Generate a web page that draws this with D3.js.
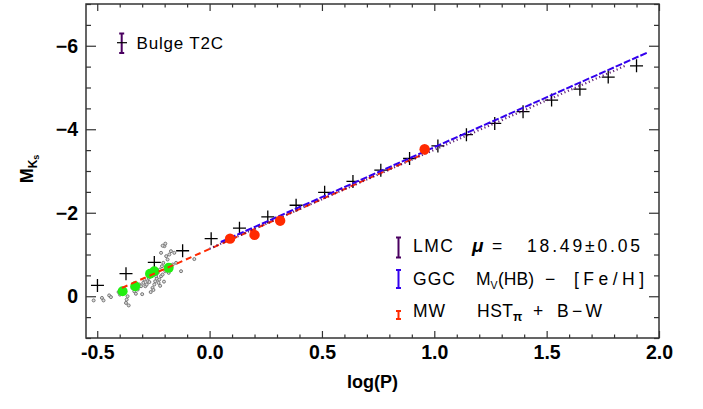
<!DOCTYPE html>
<html>
<head>
<meta charset="utf-8">
<script src="https://cdn.jsdelivr.net/npm/d3@7"></script>
<style>
  body { margin: 0; background: #fff; }
  text { font-family: "Liberation Sans", Helvetica, Arial, sans-serif; }
</style>
</head>
<body>
<div id="chart"></div>
<script>
// binned bulge T2C points (black crosses)
var crossLogP = [-0.499, -0.372, -0.246, -0.120, 0.007, 0.133, 0.259, 0.385, 0.512, 0.638,
                 0.762, 0.890, 1.016, 1.143, 1.269, 1.395, 1.522, 1.648, 1.774, 1.900];
var crossMag = [-0.26, -0.54, -0.81, -1.09, -1.38, -1.63, -1.90, -2.18, -2.49, -2.75,
                -3.02, -3.30, -3.60, -3.87, -4.14, -4.42, -4.70, -4.96, -5.25, -5.52];

// MW stars (red dots)
var mwLogP = [0.091, 0.200, 0.314, 0.957];
var mwMag = [-1.38, -1.47, -1.81, -3.52];

// green dots
var greenLogP = [-0.387, -0.331, -0.265, -0.246, -0.182];
var greenMag = [-0.12, -0.24, -0.54, -0.60, -0.68];

// individual stars (small grey circles)
var grayLogP = [-0.516, -0.479, -0.472, -0.447, -0.439, -0.405, -0.399, -0.372, -0.369, -0.365,
                -0.343, -0.335, -0.328, -0.320, -0.313, -0.305, -0.295, -0.291, -0.286, -0.280,
                -0.276, -0.271, -0.268, -0.254, -0.246, -0.242, -0.238, -0.235, -0.231, -0.227,
                -0.224, -0.221, -0.216, -0.216, -0.212, -0.209, -0.206, -0.201, -0.197, -0.193,
                -0.191, -0.187, -0.182, -0.179, -0.172, -0.164, -0.157, -0.149, -0.127, -0.068,
                -0.209, -0.197, -0.360, -0.300, -0.262, -0.250, -0.220, -0.203];
var grayMag = [0.10, 0.04, 0.10, -0.02, 0.02, -0.10, -0.04, 0.16, 0.08, 0.00,
               -0.20, -0.12, -0.06, -0.16, -0.28, -0.24, -0.32, -0.40, -0.24, -0.28,
               -0.36, -0.44, -0.34, -0.20, -0.28, -0.36, -0.48, -0.42, -0.56, -0.32,
               -0.40, -0.64, -0.48, -1.04, -0.72, -0.52, -0.80, -1.20, -0.60, -0.96,
               -0.72, -0.88, -0.56, -1.00, -1.08, -0.76, -1.04, -0.80, -0.60, -0.89,
               -1.21, -1.26, 0.22, -0.05, -0.10, -0.15, -0.25, -0.35];

// fitted relations (end points)
var lmcFitLogP = [0.0, 1.85];
var lmcFitMag = [-1.14, -5.52];
var ggcFitLogP = [0.05, 1.95];
var ggcFitMag = [-1.30, -5.84];
var mwFitLogP = [-0.39, 0.97];
var mwFitMag = [-0.20, -3.45];

// ticks
var xMajor = [-0.5, 0.0, 0.5, 1.0, 1.5, 2.0];
var yMajor = [-6, -4, -2, 0];

var svgWidth = 703;
var svgHeight = 409;
var margin = { top: 4, right: 44, bottom: 71, left: 86 };
var width = svgWidth - margin.left - margin.right;
var height = svgHeight - margin.top - margin.bottom;

var purple = "#4a0060";
var blue = "#3300ee";
var red = "#ff2a00";

var svg = d3.select("#chart").append("svg")
  .attr("width", svgWidth)
  .attr("height", svgHeight);

var g = svg.append("g")
  .attr("transform", `translate(${margin.left}, ${margin.top})`);

var x = d3.scaleLinear().domain([-0.55, 2.0]).range([0, width]);
var y = d3.scaleLinear().domain([1, -7]).range([height, 0]);

var xMinor = d3.range(-5, 21).map(d => d / 10).filter(d => xMajor.indexOf(d) < 0);
var yMinor = d3.range(-14, 3).map(d => d / 2).filter(d => yMajor.indexOf(d) < 0);

// axes: ticks on all four sides, pointing inward
function styleAxis(sel) {
  sel.select(".domain").remove();
  sel.selectAll(".tick line").attr("stroke", "#333").attr("stroke-width", 1.2);
  sel.selectAll("text")
    .attr("font-family", "Liberation Sans, Helvetica, Arial, sans-serif")
    .attr("font-size", 19.5)
    .attr("font-weight", "bold")
    .attr("fill", "#000");
}

g.append("g").attr("transform", `translate(0, ${height})`)
  .call(d3.axisBottom(x).tickValues(xMajor).tickSize(-7).tickPadding(7)
    .tickFormat(d => d.toFixed(1)))
  .call(styleAxis);
g.append("g").attr("transform", `translate(0, ${height})`)
  .call(d3.axisBottom(x).tickValues(xMinor).tickSize(-3.5).tickFormat(""))
  .call(styleAxis);
g.append("g")
  .call(d3.axisTop(x).tickValues(xMajor).tickSize(-7).tickFormat(""))
  .call(styleAxis);
g.append("g")
  .call(d3.axisTop(x).tickValues(xMinor).tickSize(-3.5).tickFormat(""))
  .call(styleAxis);

g.append("g")
  .call(d3.axisLeft(y).tickValues(yMajor).tickSize(-10).tickPadding(8)
    .tickFormat(d => d === 0 ? "0" : "\u2212" + Math.abs(d)))
  .call(styleAxis);
g.append("g")
  .call(d3.axisLeft(y).tickValues(yMinor).tickSize(-5).tickFormat(""))
  .call(styleAxis);
g.append("g").attr("transform", `translate(${width}, 0)`)
  .call(d3.axisRight(y).tickValues(yMajor).tickSize(-10).tickFormat(""))
  .call(styleAxis);
g.append("g").attr("transform", `translate(${width}, 0)`)
  .call(d3.axisRight(y).tickValues(yMinor).tickSize(-5).tickFormat(""))
  .call(styleAxis);

// frame
g.append("rect")
  .attr("width", width).attr("height", height)
  .attr("fill", "none").attr("stroke", "#333").attr("stroke-width", 1.5);

// grey stars
g.append("g").selectAll("circle")
  .data(d3.zip(grayLogP, grayMag))
  .enter().append("circle")
  .attr("cx", d => x(d[0]))
  .attr("cy", d => y(d[1]))
  .attr("r", 1.5)
  .attr("fill", "#ddd")
  .attr("stroke", "#777")
  .attr("stroke-width", 1);

// crosses
g.append("g").selectAll("path")
  .data(d3.zip(crossLogP, crossMag))
  .enter().append("path")
  .attr("d", d => `M${x(d[0]) - 6.5},${y(d[1])}h13M${x(d[0])},${y(d[1]) - 6.5}v13`)
  .attr("stroke", "#000")
  .attr("stroke-width", 1.3)
  .attr("fill", "none");

// green dots
g.append("g").selectAll("circle")
  .data(d3.zip(greenLogP, greenMag))
  .enter().append("circle")
  .attr("cx", d => x(d[0]))
  .attr("cy", d => y(d[1]))
  .attr("r", 5)
  .attr("fill", "#22ee11");

// fit lines
var line = d3.line().x(d => x(d[0])).y(d => y(d[1]));

g.append("path").datum(d3.zip(mwFitLogP, mwFitMag))
  .attr("d", line).attr("fill", "none")
  .attr("stroke", red).attr("stroke-width", 2)
  .attr("stroke-dasharray", "6,4");
g.append("path").datum(d3.zip(lmcFitLogP, lmcFitMag))
  .attr("d", line).attr("fill", "none")
  .attr("stroke", purple).attr("stroke-width", 2.2)
  .attr("stroke-dasharray", "1.2,2.6")
  .attr("opacity", 0.85);
g.append("path").datum(d3.zip(ggcFitLogP, ggcFitMag))
  .attr("d", line).attr("fill", "none")
  .attr("stroke", blue).attr("stroke-width", 2)
  .attr("stroke-dasharray", "7,2");

// MW red dots
g.append("g").selectAll("circle")
  .data(d3.zip(mwLogP, mwMag))
  .enter().append("circle")
  .attr("cx", d => x(d[0]))
  .attr("cy", d => y(d[1]))
  .attr("r", 5.2)
  .attr("fill", red);

// error-bar symbol
function errBar(px, y0, y1, color) {
  svg.append("path")
    .attr("d", `M${px - 2.5},${y0}h5M${px},${y0}V${y1}M${px - 2.5},${y1}h5`)
    .attr("stroke", color).attr("stroke-width", 2).attr("fill", "none");
}

// Bulge T2C label
errBar(121.7, 33.5, 53, purple);
svg.append("path").attr("d", "M117,42.7h10").attr("stroke", "#000").attr("stroke-width", 1.2);
svg.append("text").attr("x", 136.5).attr("y", 48.5)
  .attr("font-size", 17).attr("letter-spacing", 0.8)
  .text("Bulge T2C");

// legend
errBar(398.5, 237.5, 257.5, purple);
errBar(398.5, 270, 288, blue);
errBar(398.5, 311, 319, red);

function txt(tx, ty, s, opts) {
  var t = svg.append("text").attr("x", tx).attr("y", ty)
    .attr("font-size", (opts && opts.size) || 17.5)
    .attr("fill", "#000")
    .text(s);
  if (opts && opts.len) t.attr("textLength", opts.len).attr("lengthAdjust", "spacing");
  if (opts && opts.bold) t.attr("font-weight", "bold");
  if (opts && opts.italic) t.attr("font-style", "italic");
  return t;
}

txt(413, 252, "LMC", { len: 40 });
txt(472, 252, "\u03bc", { bold: true, italic: true, size: 19 });
txt(492, 252, "=");
txt(527, 252, "18.49\u00b10.05", { len: 113 });

txt(413, 285, "GGC", { len: 42 });
txt(476, 285, "M");
txt(490.5, 289, "V", { size: 10.5 });
txt(498, 285, "(HB)", { len: 36 });
txt(545, 285, "\u2212");
txt(574, 285, "[Fe/H]", { len: 70 });

txt(413, 317, "MW", { len: 32 });
txt(477, 317, "HST", { len: 36 });
txt(513, 320.5, "\u03c0", { size: 12, bold: true });
txt(533, 317, "+");
txt(557, 317, "B\u2212W", { len: 45 });

// axis titles
svg.append("text")
  .attr("x", margin.left + width / 2).attr("y", 388)
  .attr("text-anchor", "middle")
  .attr("font-size", 18).attr("font-weight", "bold")
  .text("log(P)");

var yt = svg.append("text")
  .attr("transform", "translate(33, 169) rotate(-90)")
  .attr("text-anchor", "middle")
  .attr("font-size", 18).attr("font-weight", "bold");
yt.append("tspan").text("M");
yt.append("tspan").attr("font-size", 12).attr("dy", 4).text("K");
yt.append("tspan").attr("font-size", 9).attr("dy", 2).text("s");
</script>
</body>
</html>
